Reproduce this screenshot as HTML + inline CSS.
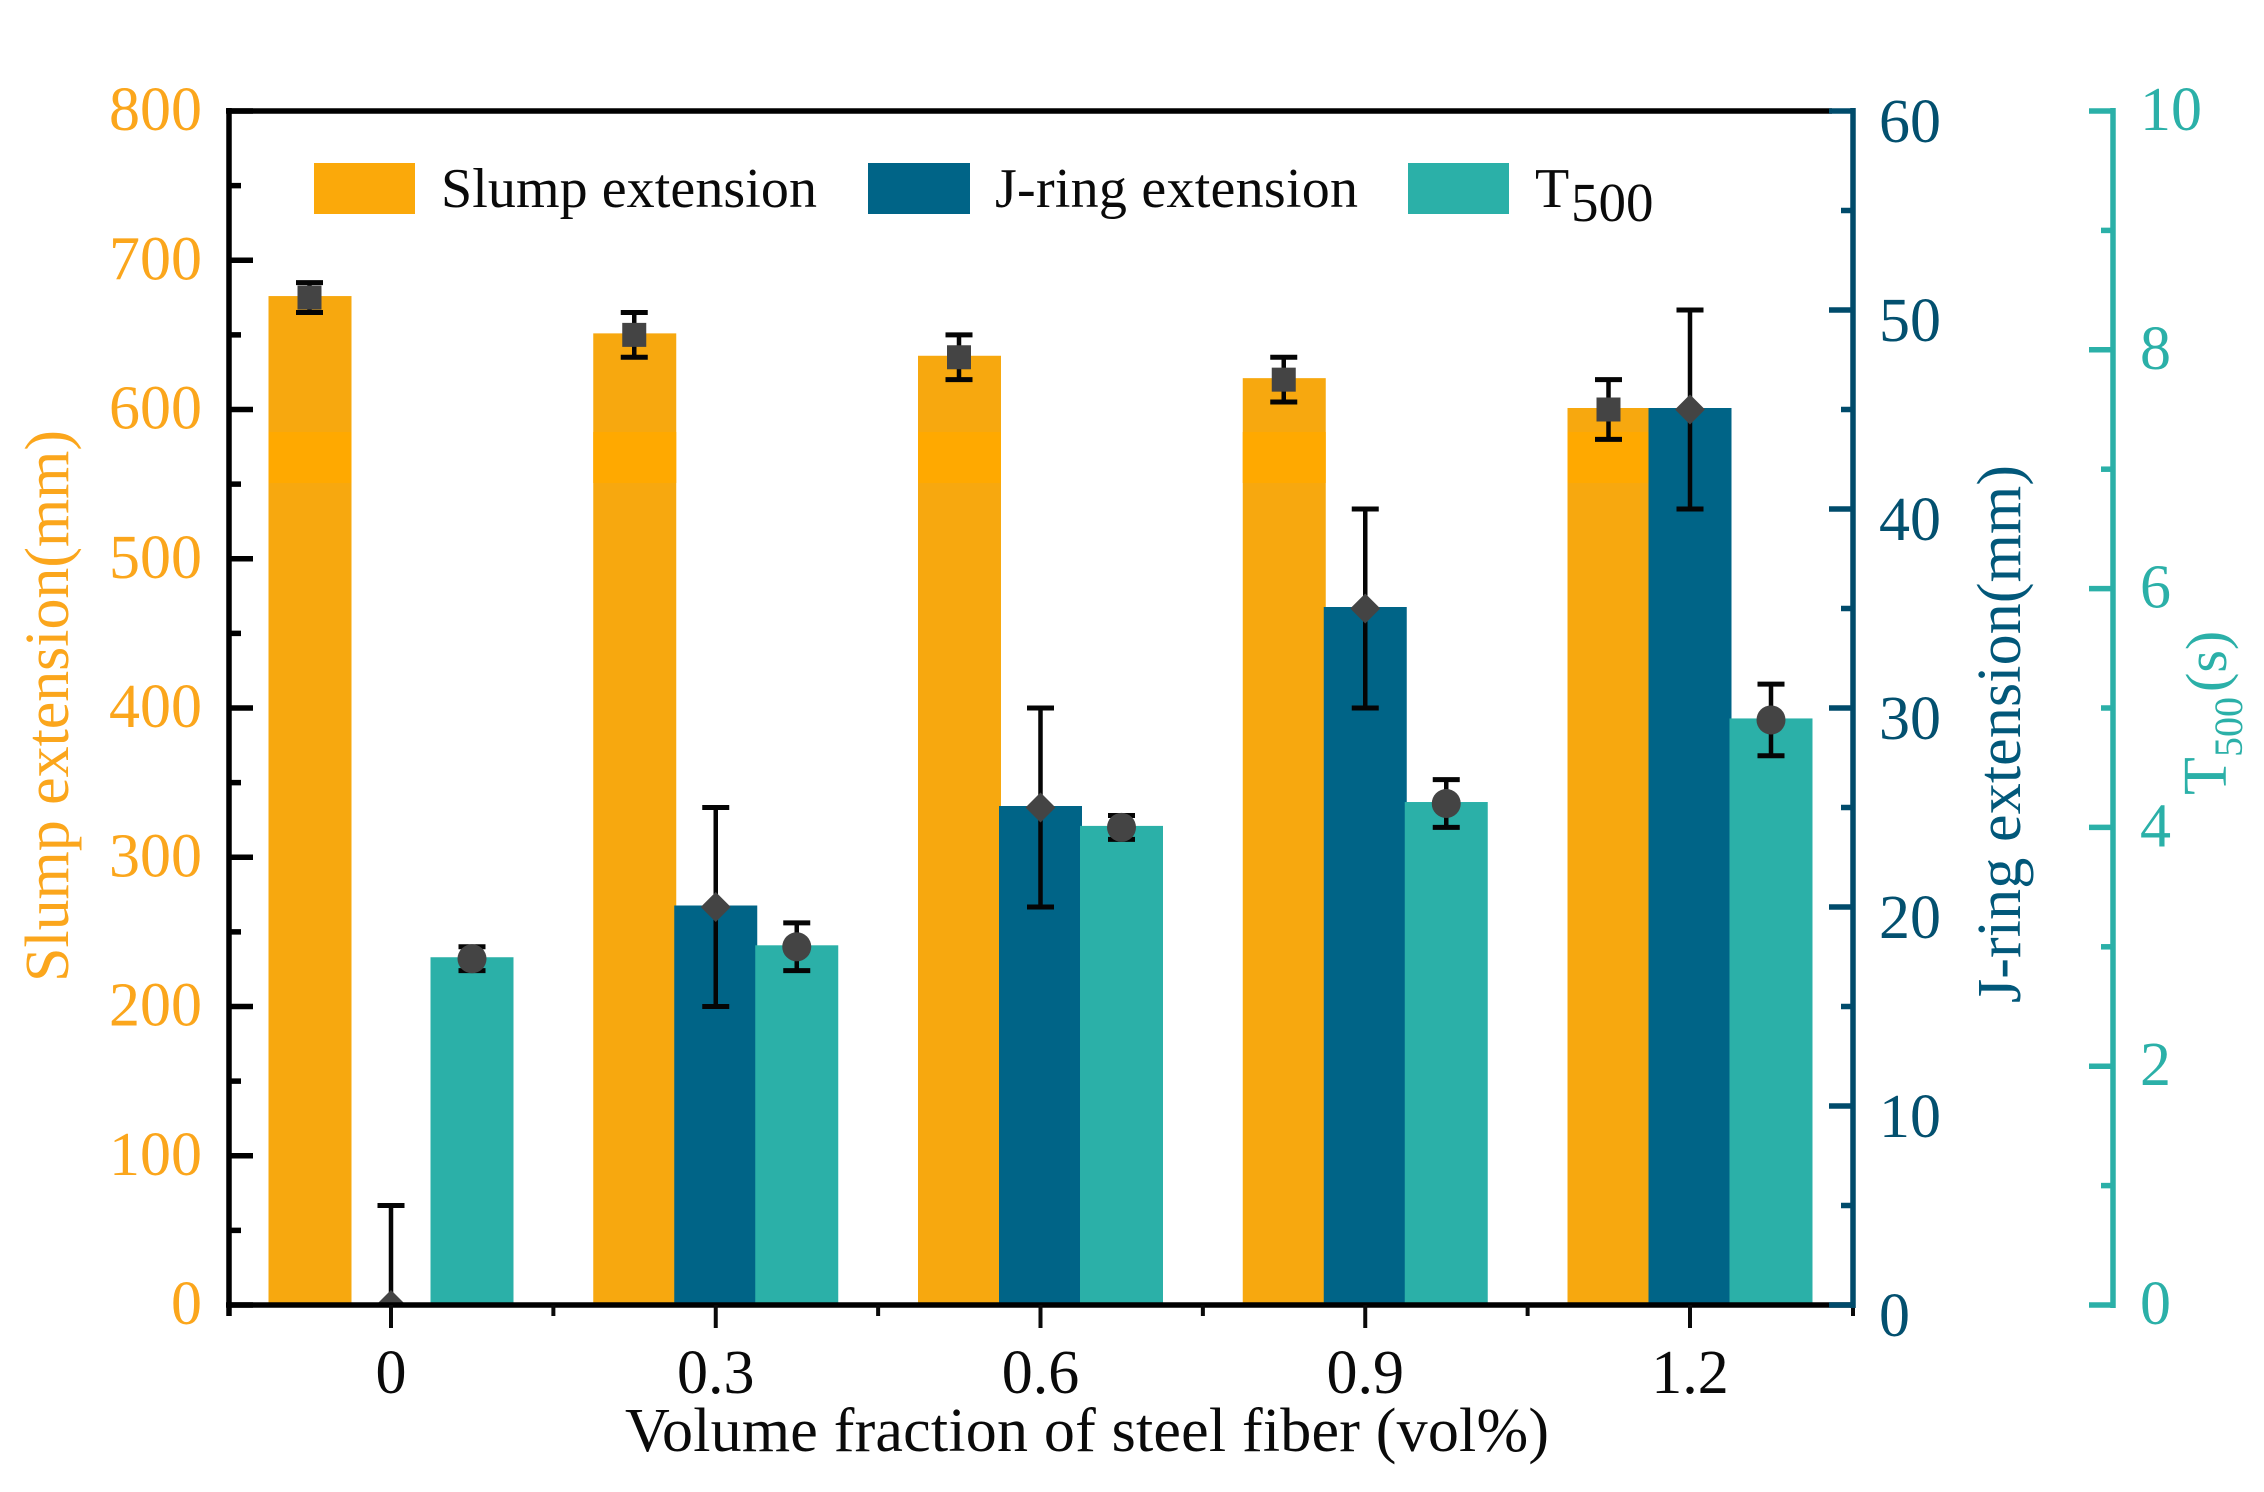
<!DOCTYPE html>
<html lang="en">
<head>
<meta charset="utf-8">
<title>Slump extension, J-ring extension and T500 versus steel fiber volume fraction</title>
<style>
  html, body { margin: 0; padding: 0; background: #ffffff; }
  svg { display: block; }
  text { font-family: "Liberation Serif", "Times New Roman", serif; }
</style>
</head>
<body>
<svg id="chart" xmlns="http://www.w3.org/2000/svg" width="2264" height="1492" viewBox="0 0 2264 1492">
  <defs>
    <clipPath id="plot-clip"><rect x="226" y="100" width="1640" height="1205"></rect></clipPath>
  </defs>
  <rect x="0" y="0" width="2264" height="1492" fill="#ffffff"></rect>
  <g id="bars"></g>
  <g id="marks" clip-path="url(#plot-clip)"></g>

  <g>
    <rect x="314" y="163" width="101" height="51" fill="#FBA90A"></rect>
    <text x="441" y="207" font-size="56" textLength="376" lengthAdjust="spacing" fill="#0a0a0a">Slump extension</text>
    <rect x="868" y="163" width="102" height="51" fill="#006487"></rect>
    <text x="995" y="207" font-size="56" textLength="363" lengthAdjust="spacing" fill="#0a0a0a">J-ring extension</text>
    <rect x="1408" y="163" width="101" height="51" fill="#2BB0A8"></rect>
    <text x="1535" y="207" font-size="56" fill="#0a0a0a">T</text>
    <text x="1571" y="221" font-size="55" fill="#0a0a0a">500</text>
  </g>

  <g id="axes">
    <line x1="226" x2="1832" y1="111" y2="111" stroke="#000000" stroke-width="5.5"></line>
    <line x1="229" x2="229" y1="108" y2="1316" stroke="#000000" stroke-width="5.5"></line>
    <line x1="226" x2="1853" y1="1305" y2="1305" stroke="#000000" stroke-width="5.5"></line>
    <line x1="1853" x2="1853" y1="108" y2="1308" stroke="#004B6B" stroke-width="5.5"></line>
    <line x1="1853" x2="1853" y1="1308" y2="1316" stroke="#0a0a0a" stroke-width="4"></line>
    <line x1="2113" x2="2113" y1="108" y2="1308" stroke="#2BB0A8" stroke-width="5.5"></line>
  </g>

  <text x="625" y="1451" font-size="62" textLength="924" lengthAdjust="spacing" fill="#0a0a0a">Volume fraction of steel fiber (vol%)</text>
  <text transform="translate(68 982) rotate(-90)" font-size="62" textLength="552" lengthAdjust="spacing" fill="#FBA61C">Slump extension(mm)</text>
  <text transform="translate(2020 1003) rotate(-90)" font-size="62" textLength="538" lengthAdjust="spacing" fill="#02587A">J-ring extension(mm)</text>
  <g fill="#2BB0A8">
    <text transform="translate(2226 795) rotate(-90)" font-size="62">T</text>
    <text transform="translate(2242 757) rotate(-90)" font-size="40">500</text>
    <text transform="translate(2226 692) rotate(-90)" font-size="58">(s)</text>
  </g>
</svg>

<script>
// ---- chart data ----
const categories = ['0', '0.3', '0.6', '0.9', '1.2'];
const slumpValues = [675, 650, 635, 620, 600];
const slumpErrors = [10, 15, 15, 15, 20];
const jringValues = [0, 20, 25, 35, 45];
const jringErrors = [5, 5, 5, 5, 5];
const t500Values = [2.9, 3.0, 4.0, 4.2, 4.9];
const t500Errors = [0.1, 0.2, 0.1, 0.2, 0.3];
const slumpTicks = [0, 100, 200, 300, 400, 500, 600, 700, 800];
const slumpMinorTicks = [50, 150, 250, 350, 450, 550, 650, 750];
const jringTicks = [0, 10, 20, 30, 40, 50, 60];
const jringMinorTicks = [5, 15, 25, 35, 45, 55];
const t500Ticks = [0, 2, 4, 6, 8, 10];
const t500MinorTicks = [1, 3, 5, 7, 9];

// ---- axis functions ----
const BASE = 1305, TOP = 111, X0 = 391, STEP = 324.75, BAR_W = 83, BAR_LIFT = 1.5;
const yScale = (v, max) => BASE - (v / max) * (BASE - TOP);
const ySlump = v => yScale(v, 800);
const yJring = v => yScale(v, 60);
const yT500 = v => yScale(v, 10);
const xCat = i => X0 + i * STEP;

const NS = 'http://www.w3.org/2000/svg';
function mk(parent, tag, props) {
  const el = document.createElementNS(NS, tag);
  for (const k in props) el.setAttribute(k, props[k]);
  parent.appendChild(el);
  return el;
}
const bars = document.getElementById('bars');
const marks = document.getElementById('marks');
const axes = document.getElementById('axes');
const svg = document.getElementById('chart');

function drawBar(i, off, value, scale, color, name) {
  const cx = xCat(i) + off;
  const y = scale(value) - (value > 0 ? BAR_LIFT : 0);
  const r = mk(bars, 'rect', { x: cx - BAR_W / 2, y: y, width: BAR_W, height: Math.max(0, BASE - y), fill: color });
  
  
  if (off < 0) {
    const bandTop = Math.max(y, 432), bandBottom = 483;
    if (bandBottom > bandTop) {
      const b = mk(bars, 'rect', { x: cx - BAR_W / 2, y: bandTop, width: BAR_W, height: bandBottom - bandTop, fill: '#FFA900' });
      
      
    }
  }
}

function drawError(i, off, value, err, scale, name) {
  const cx = xCat(i) + off;
  const hi = scale(value + err), lo = scale(value - err);
  const g = mk(marks, 'g', { stroke: '#050505', 'stroke-width': 4.5, fill: 'none' });
  
  
  mk(g, 'line', { x1: cx, x2: cx, y1: hi, y2: lo });
  mk(g, 'line', { x1: cx - 13.5, x2: cx + 13.5, y1: hi, y2: hi, 'stroke-width': 5 });
  mk(g, 'line', { x1: cx - 13.5, x2: cx + 13.5, y1: lo, y2: lo, 'stroke-width': 5 });
}

function drawMarker(i, off, value, scale, kind, name) {
  const cx = xCat(i) + off, cy = scale(value);
  let m;
  if (kind === 'square') {
    m = mk(marks, 'rect', { x: cx - 12, y: cy - 12, width: 24, height: 24, fill: '#444444' });
  } else if (kind === 'diamond') {
    m = mk(marks, 'polygon', { points: [cx, cy - 15, cx + 15, cy, cx, cy + 15, cx - 15, cy].join(' '), fill: '#444444' });
  } else {
    m = mk(marks, 'circle', { cx: cx, cy: cy, r: 14.5, fill: '#444444' });
  }
  
  
}

categories.forEach((c, i) => {
  drawBar(i, -81, slumpValues[i], ySlump, '#F7A80F', 'slump');
  drawBar(i, 0, jringValues[i], yJring, '#006487', 'j-ring');
  drawBar(i, 81, t500Values[i], yT500, '#2BB0A8', 't500');
});
categories.forEach((c, i) => {
  drawError(i, -81.5, slumpValues[i], slumpErrors[i], ySlump, 'slump');
  drawMarker(i, -81.5, slumpValues[i], ySlump, 'square', 'slump');
  drawError(i, 0, jringValues[i], jringErrors[i], yJring, 'j-ring');
  drawMarker(i, 0, jringValues[i], yJring, 'diamond', 'j-ring');
  drawError(i, 81, t500Values[i], t500Errors[i], yT500, 't500');
  drawMarker(i, 81, t500Values[i], yT500, 'circle', 't500');
});

// ---- ticks and tick labels ----
function yAxisTicks(major, minor, scale, xAxis, dir, color, name, labelX, anchor, labelDy, labelColor) {
  major.forEach(v => {
    const y = scale(v);
    const t = mk(axes, 'line', { x1: xAxis, x2: xAxis + dir * 24, y1: y, y2: y, stroke: color, 'stroke-width': 5.5 });
    
    
    const l = mk(svg, 'text', { x: labelX, y: y + labelDy, 'font-size': 62, 'text-anchor': anchor, fill: labelColor });
    l.textContent = String(v);
    
    
  });
  minor.forEach(v => {
    const y = scale(v);
    const t = mk(axes, 'line', { x1: xAxis, x2: xAxis + dir * 12, y1: y, y2: y, stroke: color, 'stroke-width': 5.5 });
    
    
  });
}
yAxisTicks(slumpTicks, slumpMinorTicks, ySlump, 229, 1, '#000000', 'slump-axis', 202, 'end', 19, '#FBA61C');
yAxisTicks(jringTicks, jringMinorTicks, yJring, 1853, -1, '#004B6B', 'j-ring-axis', 1879, 'start', 31, '#03506F');
yAxisTicks(t500Ticks, t500MinorTicks, yT500, 2113, -1, '#2BB0A8', 't500-axis', 2140, 'start', 19, '#2BB0A8');

categories.forEach((c, i) => {
  const x = xCat(i);
  const t = mk(axes, 'line', { x1: x, x2: x, y1: 1305, y2: 1328, stroke: '#0a0a0a', 'stroke-width': 4 });
  
  
  const l = mk(svg, 'text', { x: x, y: 1393, 'font-size': 62, 'text-anchor': 'middle', fill: '#0a0a0a' });
  l.textContent = c;
  
  
  if (i < categories.length - 1) {
    const mx = x + STEP / 2;
    const m = mk(axes, 'line', { x1: mx, x2: mx, y1: 1305, y2: 1316, stroke: '#0a0a0a', 'stroke-width': 4 });
    
    
  }
});
</script>
</body>
</html>
